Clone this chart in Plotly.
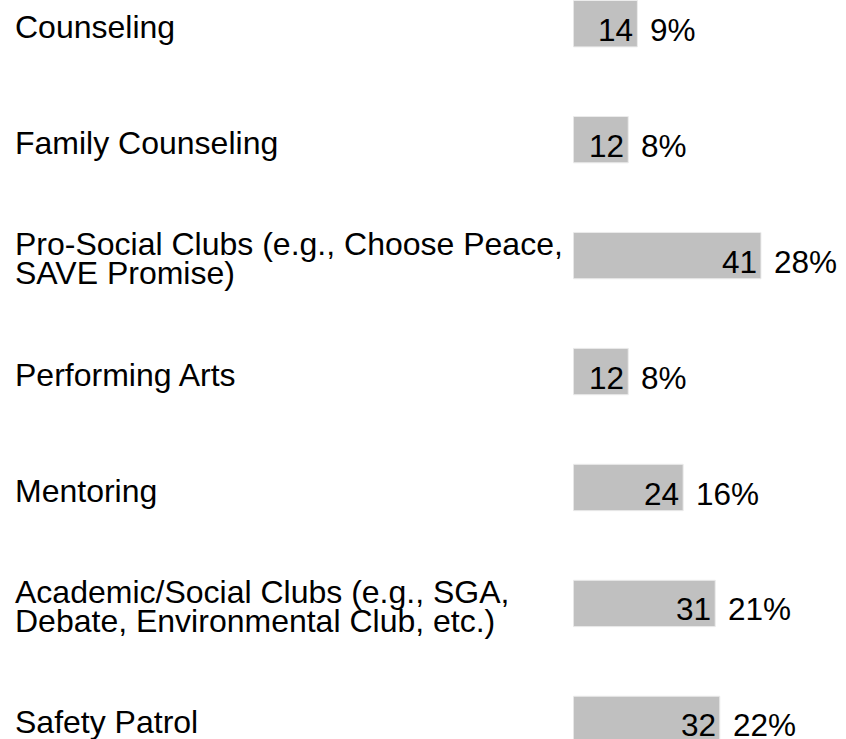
import plotly.graph_objects as go

# ---- data ----
categories = [
    "Counseling",
    "Family Counseling",
    "Pro-Social Clubs (e.g., Choose Peace,\nSAVE Promise)",
    "Performing Arts",
    "Mentoring",
    "Academic/Social Clubs (e.g., SGA,\nDebate, Environmental Club, etc.)",
    "Safety Patrol",
]
counts = [14, 12, 41, 12, 24, 31, 32]
percents = [9, 8, 28, 8, 16, 21, 22]

W, H = 846, 739
FONT = "Liberation Sans, Arial, sans-serif"
bar_x0 = 573.3          # pixel where value 0 sits
px_per_unit = 4.578
row_px = 115.95
first_center = 23.7

fig = go.Figure(
    go.Bar(
        x=counts,
        y=categories,
        orientation="h",
        width=0.4,
        marker=dict(color="#c0c0c0", line=dict(color="#ececec", width=1)),
        hoverinfo="skip",
        showlegend=False,
    )
)

ann = []
for cat, c, p in zip(categories, counts, percents):
    ann.append(dict(x=c, y=cat, xref="x", yref="y", text=str(c), showarrow=False,
                    xanchor="right", yanchor="middle", xshift=-2, yshift=-6,
                    font=dict(family=FONT, size=31.5, color="#000000")))
    ann.append(dict(x=c, y=cat, xref="x", yref="y", text=f"{p}%", showarrow=False,
                    xanchor="left", yanchor="middle", xshift=11, yshift=-6,
                    font=dict(family=FONT, size=31.5, color="#000000")))
    lines = cat.split("\n")
    n = len(lines)
    spacing = 29
    for i, line in enumerate(lines):
        off = ((n - 1) / 2 - i) * spacing
        ann.append(dict(x=13 / W, y=cat, xref="paper", yref="y", text=line, showarrow=False,
                        xanchor="left", yanchor="middle", yshift=-3 + off,
                        font=dict(family=FONT, size=32, color="#000000")))

n_cat = len(categories)
fig.update_layout(
    width=W, height=H,
    margin=dict(l=0, r=0, t=0, b=0),
    paper_bgcolor="white", plot_bgcolor="white",
    xaxis=dict(domain=[bar_x0 / W, 1], range=[0, (W - bar_x0) / px_per_unit],
               visible=False, fixedrange=True),
    yaxis=dict(type="category",
               range=[(n_cat - 1) + (H - (first_center + (n_cat - 1) * row_px)) / row_px,
                      -first_center / row_px],
               visible=False, fixedrange=True),
    annotations=ann,
    showlegend=False,
)

fig.write_html(
    "out.html",
    config={"displayModeBar": False},
    post_script="document.body.style.margin='0';document.body.style.overflow='hidden';",
)
